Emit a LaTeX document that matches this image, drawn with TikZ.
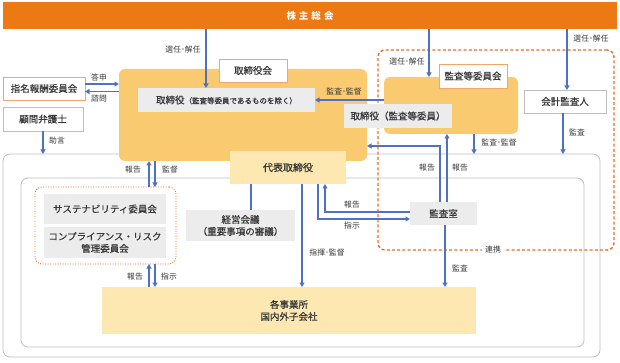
\documentclass[tikz,border=0pt]{standalone}
\usepackage{fontspec}
\setmainfont{Noto Sans CJK JP}
\newfontfamily\jpmed{Noto Sans CJK JP}[FakeBold=0.6]
\usepackage{xcolor}
\usepackage{tikz}
\usetikzlibrary{arrows.meta}

\definecolor{textgray}{RGB}{55,55,55}
\definecolor{boxgray}{RGB}{236,236,236}
\definecolor{panelorange}{RGB}{249,202,112}
\definecolor{paleyellow}{RGB}{253,232,178}
\definecolor{barorange}{RGB}{237,121,21}
\definecolor{dashorange}{RGB}{240,105,30}
\definecolor{tagorange}{RGB}{244,165,110}
\definecolor{linegray}{RGB}{190,190,190}
\definecolor{arrowblue}{RGB}{80,112,196}

\begin{document}
\begin{tikzpicture}[
  x=1pt, y=-1pt,
  every node/.style={text=textgray, inner sep=0pt, outer sep=0pt},
  main/.style={font=\jpmed\fontsize{9.5}{12}\selectfont, align=center},
  box/.style={main, fill=boxgray},
  panel/.style={fill=panelorange, rounded corners=6pt},
  tag/.style={main, draw=tagorange, line width=0.9pt, fill=white},
  plain/.style={main, draw=linegray, line width=0.9pt, fill=white},
  pale/.style={main, fill=paleyellow},
  frame/.style={draw=linegray, line width=0.8pt, rounded corners=7pt},
  lbl/.style={font=\fontsize{7.8}{9}\selectfont, inner sep=1pt},
  arrow/.style={-{Triangle[length=4.5pt,width=5pt]}, draw=arrowblue, line width=1.1pt},
  link/.style={draw=arrowblue, line width=1.1pt}
]
\useasboundingbox (0,0) rectangle (620,363);

% containers
\node[frame, fill=white, minimum width=597pt, minimum height=203pt] (outer) at (301.5,255.5) {};
\node[frame, minimum width=563pt, minimum height=169pt] (inner) at (302.5,262.5) {};
\node[draw=dashorange, line width=1.4pt, dash pattern=on 3pt off 2.2pt, rounded corners=7pt,
      minimum width=236pt, minimum height=200pt] (audit) at (496,150) {};
\node[draw=dashorange, line width=0.9pt, dash pattern=on 0.9pt off 1.6pt, rounded corners=7pt,
      minimum width=141pt, minimum height=77pt] (cmte) at (105.5,225.5) {};

% top bar
\node[fill=barorange, minimum width=614pt, minimum height=27pt, text=white,
      font=\fontsize{9.5}{12}\selectfont\bfseries] (gm) at (310,16)
      {株\hspace{3pt}主\hspace{3pt}総\hspace{3pt}会};

% board of directors
\node[panel, minimum width=248pt, minimum height=92pt] (board) at (243,115) {};
\node[tag, minimum width=68pt, minimum height=23pt] (boardtag) at (253,70.5) {取締役会};
\node[box, minimum width=177pt, minimum height=24pt] (dir) at (226.5,100)
      {取締役{\fontsize{7.5}{9}\selectfont（監査等委員であるものを除く）}};

% audit and supervisory committee
\node[panel, minimum width=134pt, minimum height=57pt] (acpanel) at (451,105.5) {};
\node[tag, minimum width=68pt, minimum height=24pt] (actag) at (473,76) {監査等委員会};
\node[box, minimum width=108pt, minimum height=24pt] (acdir) at (398,116) {取締役（監査等委員）};
\node[plain, minimum width=82pt, minimum height=23pt] (auditor) at (565,101.5) {会計監査人};

% left side
\node[tag, minimum width=82pt, minimum height=23pt] (nomcom) at (44,88.5) {指名報酬委員会};
\node[plain, minimum width=80pt, minimum height=24pt] (counsel) at (43,119) {顧問弁護士};

% executive side
\node[pale, font=\jpmed\fontsize{10}{12}\selectfont, minimum width=116pt, minimum height=33pt] (ceo) at (288,167.5) {代表取締役};
\node[box, minimum width=109pt, minimum height=31pt] (mgmt) at (240.5,225.5) {経営会議\\（重要事項の審議）};
\node[box, minimum width=67pt, minimum height=23pt] (iad) at (443.5,213.5) {監査室};
\node[box, minimum width=122pt, minimum height=30pt] (sust) at (105,209) {サステナビリティ委員会};
\node[box, minimum width=122pt, minimum height=31pt] (comp) at (105,242.5) {コンプライアンス・リスク\\管理委員会};
\node[pale, minimum width=374pt, minimum height=47pt] (offices) at (289,310.5) {各事業所\\国内外子会社};

% connectors
\draw[arrow] ([xshift=-20.5pt]dir.north |- gm.south) -- ([xshift=-20.5pt]dir.north);
\draw[arrow] ([xshift=-22pt]acpanel.north |- gm.south) -- ([xshift=-22pt]acpanel.north);
\draw[arrow] ([xshift=2pt]auditor.north |- gm.south) -- ([xshift=2pt]auditor.north);
\draw[arrow] ([yshift=4.5pt]nomcom.east) -- ([yshift=4.5pt]nomcom.east -| board.west);
\draw[arrow] ([yshift=-3pt]nomcom.east -| board.west) -- ([yshift=-3pt]nomcom.east);
\draw[arrow] (counsel.south) -- (counsel.south |- outer.north);
\draw[arrow] (acpanel.west |- dir.east) -- (dir.east);
\draw[arrow] ([xshift=43.5pt]cmte.north) -- ([xshift=43.5pt]cmte.north |- board.south);
\draw[arrow] ([xshift=49.5pt]cmte.north |- board.south) -- ([xshift=49.5pt]cmte.north);
\draw[arrow] ([xshift=43.5pt]cmte.south |- offices.north) -- ([xshift=43.5pt]cmte.south);
\draw[arrow] ([xshift=49.5pt]cmte.south) -- ([xshift=49.5pt]cmte.south |- offices.north);
\draw[link] ([xshift=10.5pt]mgmt.north |- ceo.south) -- ([xshift=10.5pt]mgmt.north);
\draw[arrow] ([xshift=14pt]ceo.south) -- ([xshift=14pt]ceo.south |- offices.north);
\draw[arrow] ([yshift=1.5pt]iad.west) -| ([xshift=37pt]ceo.south);
\draw[arrow] ([xshift=30pt]ceo.south) |- ([yshift=-5.5pt]iad.west);
\draw[arrow] ([xshift=-3.5pt]iad.north) |- ([yshift=15pt]board.south east);
\draw[arrow] ([xshift=3.5pt]iad.north) -- ([xshift=3.5pt]iad.north |- acpanel.south);
\draw[arrow] ([xshift=23pt]acpanel.south) -- ([xshift=23pt]acpanel.south |- outer.north);
\draw[arrow] ([xshift=-2pt]auditor.south) -- ([xshift=-2pt]auditor.south |- outer.north);
\draw[arrow] ([xshift=1.5pt]iad.south) -- ([xshift=1.5pt]iad.south |- offices.north);

% labels
\node[lbl] (l-elect1) at (183,50) {選任･解任};
\node[lbl] (l-elect2) at (407,62) {選任･解任};
\node[lbl] (l-elect3) at (591,39) {選任･解任};
\node[lbl] (l-report1) at (99,77) {答申};
\node[lbl] (l-consult) at (99,99) {諮問};
\node[lbl] (l-advice) at (57,141) {助言};
\node[lbl] (l-oversee1) at (344,92) {監査･監督};
\node[lbl] (l-report2) at (133,170) {報告};
\node[lbl] (l-super) at (170,170) {監督};
\node[lbl] (l-report3) at (135,277) {報告};
\node[lbl] (l-order1) at (169,277) {指示};
\node[lbl] (l-command) at (327,253) {指揮･監督};
\node[lbl] (l-report4) at (352,205) {報告};
\node[lbl] (l-order2) at (352,226) {指示};
\node[lbl] (l-report5) at (427,168) {報告};
\node[lbl] (l-report6) at (460,168) {報告};
\node[lbl] (l-oversee2) at (499,143) {監査･監督};
\node[lbl] (l-audit1) at (577,132) {監査};
\node[lbl] (l-audit2) at (460,268) {監査};
\node[lbl, fill=white, inner xsep=3pt] (l-coop) at (493,250) {連携};
\end{tikzpicture}
\end{document}
